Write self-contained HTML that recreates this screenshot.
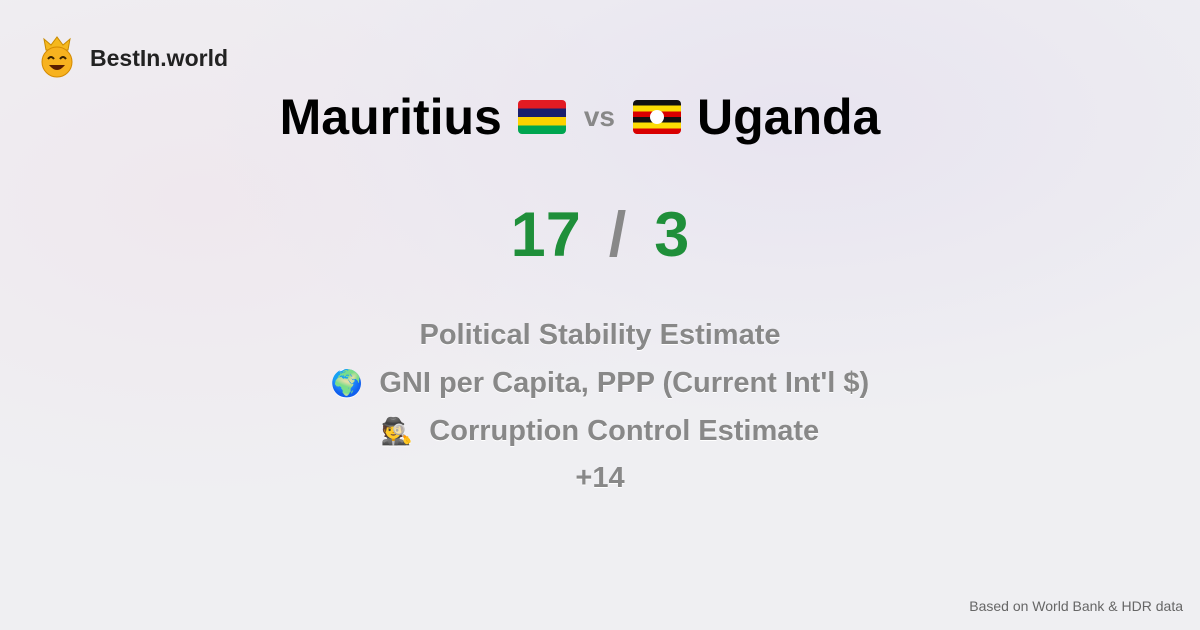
<!DOCTYPE html>
<html><head><meta charset="utf-8">
<style>
body{margin:0;width:1200px;height:630px;overflow:hidden;font-family:"Liberation Sans",sans-serif;
background:radial-gradient(ellipse 600px 300px at 800px 120px,#e8e4f0 0%,rgba(236,234,241,0) 100%),radial-gradient(ellipse 500px 300px at 200px 200px,#efe8ee 0%,rgba(240,240,243,0) 100%),#efeff2;position:relative}
.abs{position:absolute}
.brand{left:90px;top:45px;font-size:23px;font-weight:bold;color:#222}
.title{left:-20px;width:1200px;top:88px;text-align:center;font-size:50px;font-weight:bold;color:#000;white-space:nowrap;display:flex;justify-content:center;align-items:center}
.flag{display:inline-block;width:48px;height:34px;border-radius:4px;overflow:hidden;margin:0 16px}
.vs{font-size:28px;color:#888;font-weight:bold;margin:0 2px}
.score{left:0;width:1200px;top:199px;text-align:center;font-size:63px;font-weight:bold;color:#1f8f3a}
.score .sl{color:#888;margin:0 28px}
.line{left:0;width:1200px;text-align:center;font-size:29px;font-weight:bold;color:#888;text-shadow:0 1px 0 #fff}
.foot{right:17px;top:598px;font-size:14px;color:#666}
</style></head><body>
<div class="abs" style="left:38px;top:36px;width:38px;height:42px">
<svg width="38" height="42" viewBox="0 0 38 42"><path d="M8 14 L6 3 L13 9 L19 1 L25 9 L32 3 L30 14 Z" fill="#f5b81e" stroke="#c88a00" stroke-width="1"/><circle cx="19" cy="26" r="15" fill="#f7b21f" stroke="#d48a00"/><path d="M10 23 q3 -4 6 0 M22 23 q3 -4 6 0" stroke="#3a2200" stroke-width="2" fill="none"/><path d="M11 29 q8 10 16 0 z" fill="#5a1d00"/></svg></div>
<div class="abs brand">BestIn.world</div>
<div class="abs title">
<span>Mauritius</span>
<span class="flag" style="background:linear-gradient(#e31b23 0 25%,#1a206d 25% 50%,#fdd200 50% 75%,#00a650 75%)"></span>
<span class="vs">vs</span>
<span class="flag" style="position:relative;background:linear-gradient(#111 0 16.6%,#fcdc04 16.6% 33.3%,#d90000 33.3% 50%,#111 50% 66.6%,#fcdc04 66.6% 83.3%,#d90000 83.3%)"><span style="position:absolute;left:17px;top:10px;width:14px;height:14px;border-radius:50%;background:#fff"></span></span>
<span>Uganda</span>
</div>
<div class="abs score"><span>17</span><span class="sl">/</span><span>3</span></div>
<div class="abs line" style="top:319px">Political Stability Estimate</div>
<div class="abs line" style="top:367px"><span style="font-size:26px">🌍</span>&nbsp; GNI per Capita, PPP (Current Int'l $)</div>
<div class="abs line" style="top:415px"><span style="font-size:26px">🕵️</span>&nbsp; Corruption Control Estimate</div>
<div class="abs line" style="top:462px">+14</div>
<div class="abs foot">Based on World Bank &amp; HDR data</div>
</body></html>
